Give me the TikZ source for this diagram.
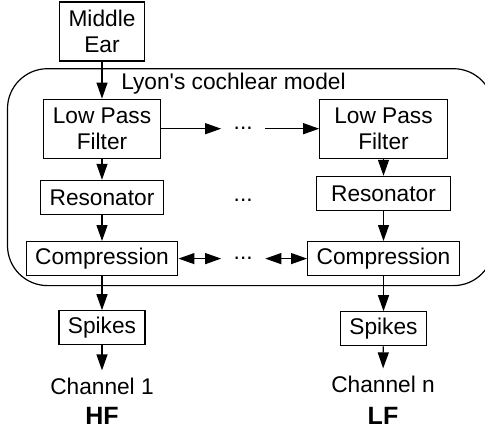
\documentclass[tikz,border=0pt]{standalone}
\usepackage{fontspec}
\setmainfont{Liberation Sans}
\usetikzlibrary{positioning}
\usetikzlibrary{arrows.meta}

\begin{document}
\begin{tikzpicture}[
            font=\fontsize{11.35bp}{13bp}\selectfont,
            line width=0.6bp,
            >={Triangle[length=8bp,width=5.5bp]},
            boxnode/.style={rectangle, draw, inner xsep=4.5bp, inner ysep=2bp, minimum height=17bp, align=center},
            tallboxnode/.style={boxnode, minimum height=29.5bp},
            dotsnode/.style={inner xsep=6bp},
            bandnode/.style={font=\fontsize{12.5bp}{15bp}\selectfont\bfseries, inner sep=1bp},
            ]
            \node[tallboxnode] (ME) {Middle\\Ear};
            \useasboundingbox ([xshift=-51bp,yshift=15.75bp]ME.center) rectangle ([xshift=191.5bp,yshift=-197.75bp]ME.center);

            \node[tallboxnode, below=18.5bp of ME] (LPF1) {Low Pass\\Filter};
            \node[boxnode, below=10.5bp of LPF1] (RES1) {Resonator};
            \node[boxnode, below=13bp of RES1] (COMP1) {Compression};
            \node[boxnode, below=17bp of COMP1] (SPK1) {Spikes};
            \node[below=12.5bp of SPK1] (CH1) {Channel 1};
            \node[bandnode, below=1.5bp of CH1] (HF) {HF};

            \node[tallboxnode, inner xsep=7.25bp] (LPFn) at ([xshift=140.75bp]LPF1) {Low Pass\\Filter};
            \node[boxnode, inner xsep=7.25bp] (RESn) at ([xshift=140.75bp,yshift=2bp]RES1) {Resonator};
            \node[boxnode] (COMPn) at ([xshift=140.75bp]COMP1) {Compression};
            \node[boxnode] (SPKn) at ([xshift=140.75bp,yshift=-0.5bp]SPK1) {Spikes};
            \node (CHn) at ([xshift=140.5bp,yshift=1bp]CH1) {Channel n};
            \node[bandnode] (LF) at ([xshift=140.5bp]HF) {LF};

            \node[dotsnode] (D1) at ([xshift=70.6bp]LPF1) {...};
            \node[dotsnode] (D2) at ([xshift=70.6bp,yshift=-1.25bp]RES1) {...};
            \node[dotsnode] (D3) at ([xshift=70.6bp]COMP1) {...};

            \draw[rounded corners=20bp] ([xshift=-47.25bp,yshift=30bp]LPF1) rectangle ([xshift=55bp,yshift=-13.5bp]COMPn);
            \node (LYON) at ([xshift=65.75bp,yshift=22.5bp]LPF1) {Lyon\textquotesingle s cochlear model};

            \draw[->] (ME) -- (LPF1);
            \draw[->] (LPF1) -- (RES1);
            \draw[->] (RES1) -- (COMP1);
            \draw[->] (COMP1) -- (SPK1);
            \draw[->] (SPK1) -- (CH1);

            \draw[->] (LPFn) -- (RESn);
            \draw[->] (RESn) -- (COMPn);
            \draw[->] (COMPn) -- (SPKn);
            \draw[->] (SPKn) -- (CHn);

            \draw[->] (LPF1) -- (D1);
            \draw[->] (D1) -- (LPFn);
            \draw[<->] (COMP1) -- (D3);
            \draw[<->] (D3) -- (COMPn);
        \end{tikzpicture}
\end{document}
